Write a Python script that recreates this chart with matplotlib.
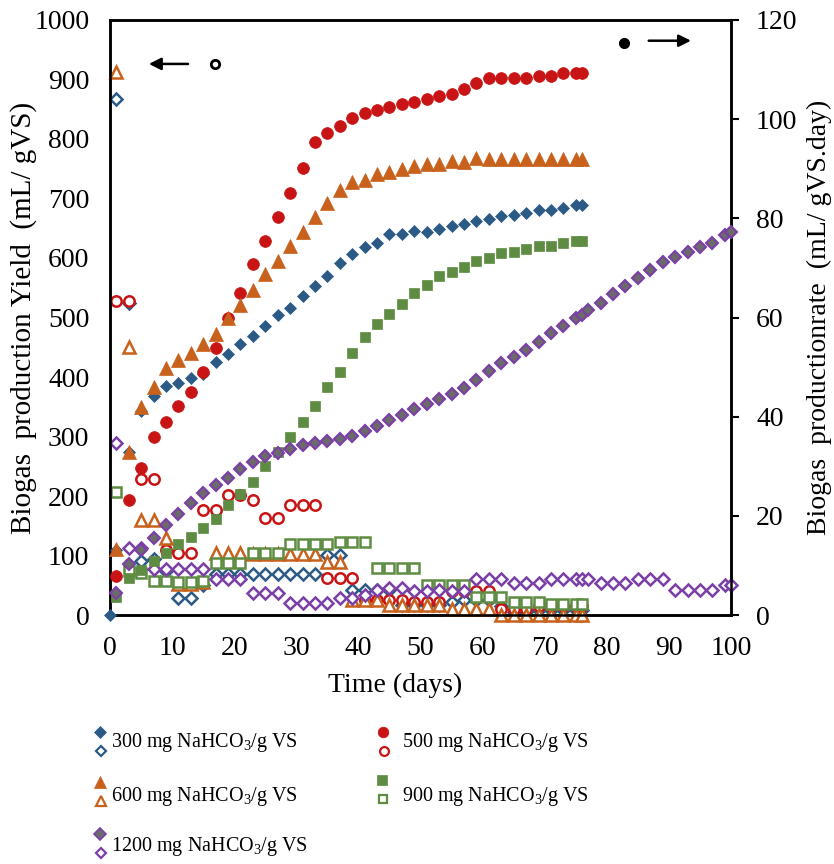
import matplotlib
matplotlib.use("Agg")
import matplotlib.pyplot as plt

plt.rcParams["font.family"] = ["Liberation Serif", "DejaVu Serif"]
plt.rcParams["mathtext.fontset"] = "custom"
plt.rcParams["mathtext.rm"] = "Liberation Serif"

# sampling days (odd days + last day)
days = [1, 3, 5, 7, 9, 11, 13, 15, 17, 19, 21, 23, 25, 27, 29, 31, 33, 35, 37, 39,
        41, 43, 45, 47, 49, 51, 53, 55, 57, 59, 61, 63, 65, 67, 69, 71, 73, 75, 76]
days_blue = [0] + days
days_long = days + [77, 79, 81, 83, 85, 87, 89, 91, 93, 95, 97, 99, 100]

# filled markers -> right axis
fill_300 = [0, 13.2, 32.9, 41.2, 44.2, 46.2, 46.7, 47.8, 48.7, 51.0, 52.6, 54.6, 56.3, 58.3,
            60.5, 62.0, 64.3, 66.4, 68.4, 70.9, 72.8, 74.3, 75.1, 76.9, 76.8, 77.4, 77.3,
            77.8, 78.4, 78.8, 79.4, 79.9, 80.5, 80.6, 81.1, 81.6, 81.7, 82.0, 82.6, 82.6]
fill_500 = [7.9, 23.2, 29.6, 35.9, 39.0, 42.1, 44.9, 49.1, 53.8, 59.9, 64.9, 70.8, 75.5,
            80.2, 85.1, 90.2, 95.4, 97.2, 98.6, 100.3, 101.3, 101.9, 102.4, 103.0, 103.4,
            104.0, 104.6, 105.1, 106.1, 107.2, 108.2, 108.2, 108.2, 108.2, 108.7, 108.7,
            109.2, 109.2, 109.2]
fill_600 = [13.4, 32.9, 41.9, 46.0, 49.8, 51.5, 52.9, 54.6, 56.6, 60.0, 62.5, 65.5, 68.8,
            71.4, 74.5, 77.2, 80.3, 83.0, 85.7, 87.4, 87.7, 88.9, 89.4, 90.0, 90.6, 91.0,
            91.0, 91.6, 91.4, 92.2, 91.9, 91.9, 91.9, 91.9, 91.9, 91.9, 91.9, 91.9, 91.9]
fill_900 = [3.7, 7.4, 9.1, 11.0, 12.6, 14.4, 15.8, 17.5, 19.4, 22.2, 24.4, 26.9, 30.1, 32.8,
            36.0, 39.0, 42.2, 46.0, 49.1, 52.8, 56.0, 58.7, 60.7, 62.8, 64.9, 66.6, 68.3,
            69.2, 70.2, 71.3, 72.0, 73.0, 73.3, 73.9, 74.4, 74.4, 75.0, 75.5, 75.5]
fill_1200 = [4.4, 10.4, 13.2, 15.6, 18.1, 20.4, 22.6, 24.7, 26.2, 27.7, 29.4, 30.8, 32.0,
             32.6, 33.5, 34.3, 34.7, 35.2, 35.6, 36.1, 37.2, 38.2, 39.4, 40.3, 41.5, 42.5,
             43.6, 44.5, 45.7, 47.4, 49.3, 50.9, 52.0, 53.4, 55.1, 56.8, 58.3, 59.9, 60.5,
             61.6, 63.0, 64.8, 66.4, 67.9, 69.5, 71.2, 72.1, 73.2, 74.3, 75.1, 76.7, 77.3]

# open markers -> left axis
open_300 = [867, 524, 91, 94, 75, 29, 29, 50, 69, 69, 69, 69, 69, 69, 69, 69, 69, 101, 101, 43,
            43, 43, 43, 17, 17, 17, 17, 22, 26, 26, 26, 15, 5, 5, 8, 8, 8, 8, 8]
open_500 = [528, 528, 228, 228, 110, 105, 105, 176, 176, 202, 202, 193, 163, 163, 185, 185,
            185, 62, 62, 62, 26, 26, 26, 25, 22, 22, 22, 40, 40, 40, 40, 10, 10, 10, 15, 15,
            15, 15, 15]
open_600 = [912, 450, 160, 160, 129, 53, 53, 55, 104, 104, 104, 102, 102, 102, 102, 102, 102,
            90, 90, 25, 25, 25, 17, 17, 17, 17, 17, 10, 10, 10, 10, 0, 0, 0, 0, 0, 0, 0, 0]
open_900 = [207, 75, 70, 57, 57, 55, 55, 57, 88, 88, 88, 105, 105, 105, 119, 119, 119, 119,
            123, 123, 123, 80, 80, 80, 80, 50, 50, 50, 50, 31, 31, 31, 22, 22, 22, 18, 18, 18, 18]
open_1200 = [289, 113, 113, 78, 78, 78, 78, 78, 60, 60, 60, 37, 37, 37, 21, 21, 21, 21, 28, 28,
             34, 42, 45, 45, 41, 41, 42, 41, 41, 60, 60, 60, 54, 54, 54, 60, 60, 60, 60,
             60, 54, 54, 54, 60, 60, 60, 42, 42, 42, 42, 50, 50]

labels = ["300", "500", "600", "900", "1200"]
colors = ["#2B5A85", "#C81414", "#C8611C", "#5E8C42", "#7B3FA6"]
markers = ["D", "o", "^", "s", "D"]
fill_ms = [6.5, 8.5, 9.5, 7.5, 6.5]
open_ms = [6.5, 7.5, 8.5, 6.5, 6.5]

fig = plt.figure(figsize=(8.34, 8.64), dpi=100)
ax = fig.add_axes([0.132, 0.288, 0.7445, 0.689])
ax2 = ax.twinx()

open_sets = [(days, open_300), (days, open_500), (days, open_600), (days, open_900),
             (days_long, open_1200)]
fill_sets = [(days_blue, fill_300), (days, fill_500), (days, fill_600), (days, fill_900),
             (days_long, fill_1200)]

for i, (x, y) in enumerate(open_sets):
    ax.plot(x, y, ls="none", marker=markers[i], ms=open_ms[i], mfc="white",
            mec=colors[i], mew=1.8, clip_on=False, zorder=3)
for i, (x, y) in enumerate(fill_sets):
    face = "#6B6B6B" if i == 4 else colors[i]
    ax2.plot(x, y, ls="none", marker=markers[i], ms=fill_ms[i], mfc=face,
             mec=colors[i], mew=1.5 if i == 4 else 0.5, clip_on=False, zorder=3)

ax.set_xlim(0, 100)
ax.set_ylim(0, 1000)
ax2.set_ylim(0, 120)
ax.set_xticks(range(0, 101, 10))
ax.set_yticks(range(0, 1001, 100))
ax2.set_yticks(range(0, 121, 20))

ax.tick_params(axis="both", labelsize=20, length=0, pad=15)
ax2.tick_params(axis="y", labelsize=20, direction="out", length=6, width=1.5, pad=12)
for a in (ax, ax2):
    for s in a.spines.values():
        s.set_linewidth(1.8)

ax.set_xlabel("Time (days)", fontsize=20)
ax.xaxis.set_label_coords(0.459, -0.097)
ax.set_ylabel("Biogas  production Yield  (mL/ gVS)", fontsize=21)
ax.yaxis.set_label_coords(-0.117, 0.5)
ax2.set_ylabel("Biogas  productionrate  (mL/ gVS.day)", fontsize=20)
ax2.yaxis.set_label_coords(1.122, 0.5)

# axis indicators
ax.annotate("", xy=(0.058, 0.926), xytext=(0.13, 0.926), xycoords="axes fraction",
            arrowprops=dict(arrowstyle="-|>", color="black", lw=1.8, mutation_scale=18))
ax.plot([0.169], [0.926], transform=ax.transAxes, marker="o", ms=6, mfc="white",
        mec="black", mew=2, clip_on=False)
ax.plot([0.828], [0.961], transform=ax.transAxes, marker="o", ms=7, color="black",
        clip_on=False)
ax.annotate("", xy=(0.94, 0.965), xytext=(0.863, 0.965), xycoords="axes fraction",
            arrowprops=dict(arrowstyle="-|>", color="black", lw=1.8, mutation_scale=18))

# legend block below the axes (pixel layout)
leg = fig.add_axes([0, 0, 1, 1], zorder=-1)
leg.set_xlim(0, 834)
leg.set_ylim(864, 0)
leg.axis("off")
slots = [(100, 732, 111), (383, 732, 402), (100, 782, 111), (382, 780, 402), (100, 834, 111)]
text_y = [742, 742, 796, 796, 846]
for i, (mx, my, tx) in enumerate(slots):
    face = "#6B6B6B" if i == 4 else colors[i]
    leg.plot([mx], [my], ls="none", marker=markers[i], ms=fill_ms[i] * 0.9, mfc=face,
             mec=colors[i], mew=1.2 if i == 4 else 0.5)
    leg.plot([mx + 1], [my + 19], ls="none", marker=markers[i], ms=open_ms[i] * 0.85,
             mfc="white", mec=colors[i], mew=1.6)
    leg.text(tx, text_y[i], labels[i] + r" mg NaHCO$_3$/g VS", fontsize=14.5,
             va="center", ha="left")

fig.savefig("out.png", dpi=100)
